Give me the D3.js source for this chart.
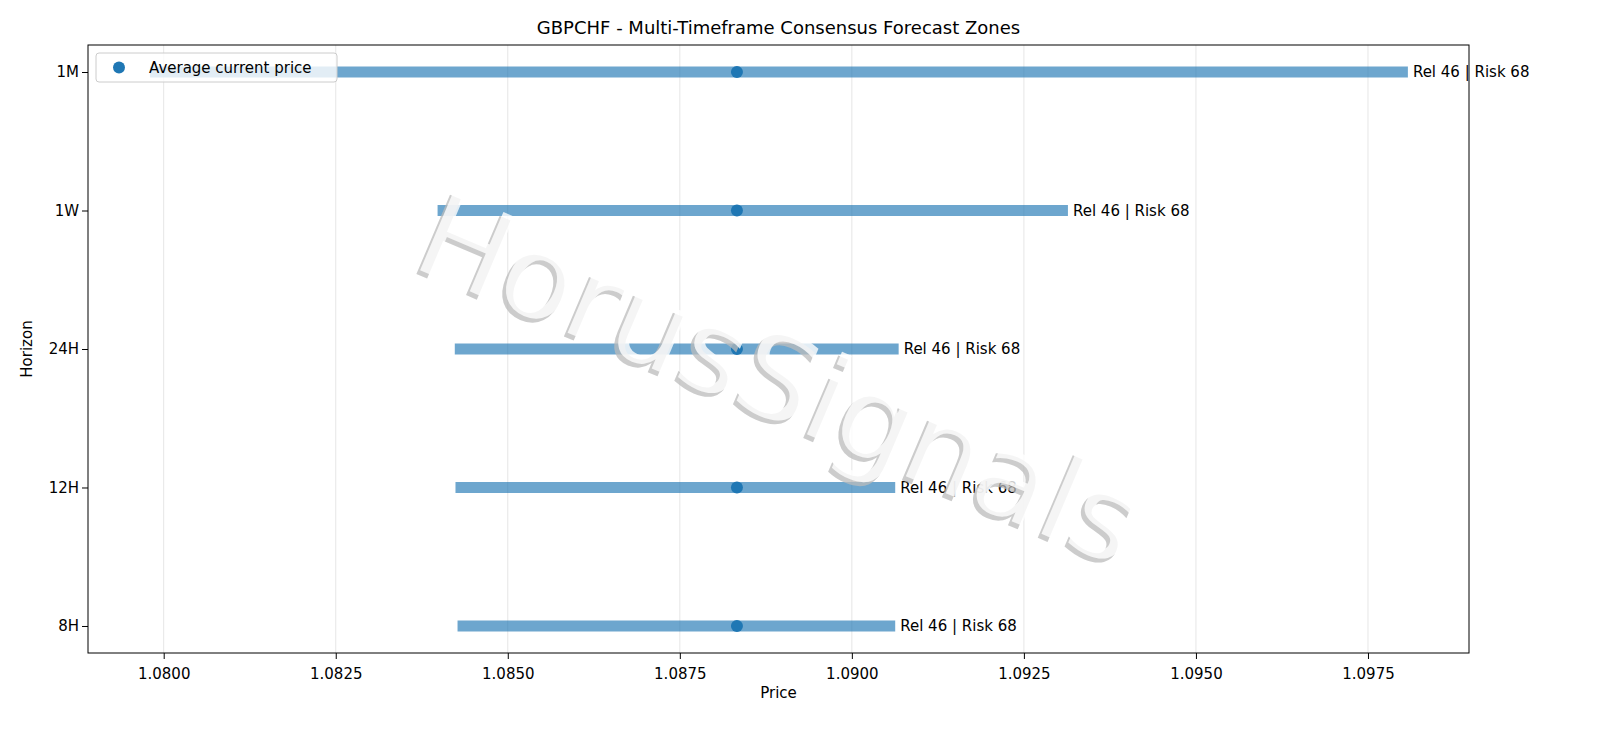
<!DOCTYPE html>
<html><head><meta charset="utf-8">
<script src="https://cdn.jsdelivr.net/npm/d3@7"></script>
<style>body{margin:0;background:#fff}text{font-family:"DejaVu Sans",sans-serif}</style>
</head><body>
<svg id="chart" width="1600" height="738"></svg>
<script>
const horizons = ["1M", "1W", "24H", "12H", "8H"];
const lows = [1.07980, 1.08398, 1.08423, 1.08424, 1.08427];
const highs = [1.09808, 1.09314, 1.09068, 1.09063, 1.09063];
const current = [1.08833, 1.08833, 1.08833, 1.08833, 1.08833];
const labels = ["Rel 46 | Risk 68", "Rel 46 | Risk 68", "Rel 46 | Risk 68", "Rel 46 | Risk 68", "Rel 46 | Risk 68"];
const xTicks = [1.0800, 1.0825, 1.0850, 1.0875, 1.0900, 1.0925, 1.0950, 1.0975];

const svg = d3.select("#chart");
const L = 88, R = 1469, T = 45, B = 653;
const x = d3.scaleLinear().domain([1.07890, 1.098968]).range([L, R]);
const y = d3.scaleLinear().domain([-0.195, 4.195]).range([T, B]);

// grid
svg.append("g").selectAll("line").data(xTicks).join("line")
  .attr("x1", d => x(d)).attr("x2", d => x(d)).attr("y1", T).attr("y2", B)
  .attr("stroke", "#e6e6e6").attr("stroke-width", 1);

// bars
svg.append("g").selectAll("line").data(horizons).join("line")
  .attr("x1", (d, i) => x(lows[i])).attr("x2", (d, i) => x(highs[i]))
  .attr("y1", (d, i) => y(i)).attr("y2", (d, i) => y(i))
  .attr("stroke", "#1f77b4").attr("stroke-opacity", 0.65).attr("stroke-width", 11);

svg.append("g").selectAll("circle").data(horizons).join("circle")
  .attr("cx", (d, i) => x(current[i])).attr("cy", (d, i) => y(i)).attr("r", 6)
  .attr("fill", "#1f77b4");

svg.append("g").selectAll("text").data(labels).join("text")
  .attr("x", (d, i) => x(highs[i]) + 5).attr("y", (d, i) => y(i)).attr("dy", "0.35em")
  .attr("font-size", 15).attr("fill", "#000").text(d => d);

// watermark
const wm = svg.append("g").attr("transform", "translate(780,378) rotate(23)");
wm.append("text").attr("x", -2).attr("y", 5).attr("text-anchor", "middle").attr("dy", "0.35em")
  .attr("font-size", 118).attr("fill", "#bbb").attr("fill-opacity", 0.75)
  .text("HorusSignals");
wm.append("text").attr("text-anchor", "middle").attr("dy", "0.35em")
  .attr("font-size", 118).attr("fill", "#fff").attr("fill-opacity", 0.8)
  .text("HorusSignals");

// axes
svg.append("g").attr("transform", `translate(0,${B})`)
  .call(d3.axisBottom(x).tickValues(xTicks).tickFormat(d3.format(".4f")).tickSizeOuter(0))
  .call(g => g.selectAll("text").attr("font-size", 15).attr("dy", "1.1em"));
svg.append("g").attr("transform", `translate(${L},0)`)
  .call(d3.axisLeft(y).tickValues(d3.range(horizons.length)).tickFormat(i => horizons[i]).tickSizeOuter(0))
  .call(g => g.selectAll("text").attr("font-size", 15));
svg.selectAll(".domain").remove();
svg.append("rect").attr("x", L).attr("y", T).attr("width", R - L).attr("height", B - T)
  .attr("fill", "none").attr("stroke", "#000");

svg.append("text").attr("x", (L + R) / 2).attr("y", 34).attr("text-anchor", "middle")
  .attr("font-size", 18).text("GBPCHF - Multi-Timeframe Consensus Forecast Zones");
svg.append("text").attr("x", (L + R) / 2).attr("y", 698).attr("text-anchor", "middle")
  .attr("font-size", 15).text("Price");
svg.append("text").attr("transform", "translate(32,349) rotate(-90)").attr("text-anchor", "middle")
  .attr("font-size", 15).text("Horizon");

// legend
const lg = svg.append("g").attr("transform", "translate(96,53)");
lg.append("rect").attr("width", 241).attr("height", 29).attr("rx", 3)
  .attr("fill", "#fff").attr("fill-opacity", 0.8).attr("stroke", "#ccc");
lg.append("circle").attr("cx", 23).attr("cy", 14.5).attr("r", 6).attr("fill", "#1f77b4");
lg.append("text").attr("x", 53).attr("y", 14.5).attr("dy", "0.35em").attr("font-size", 15).text("Average current price");
</script>
</body></html>
